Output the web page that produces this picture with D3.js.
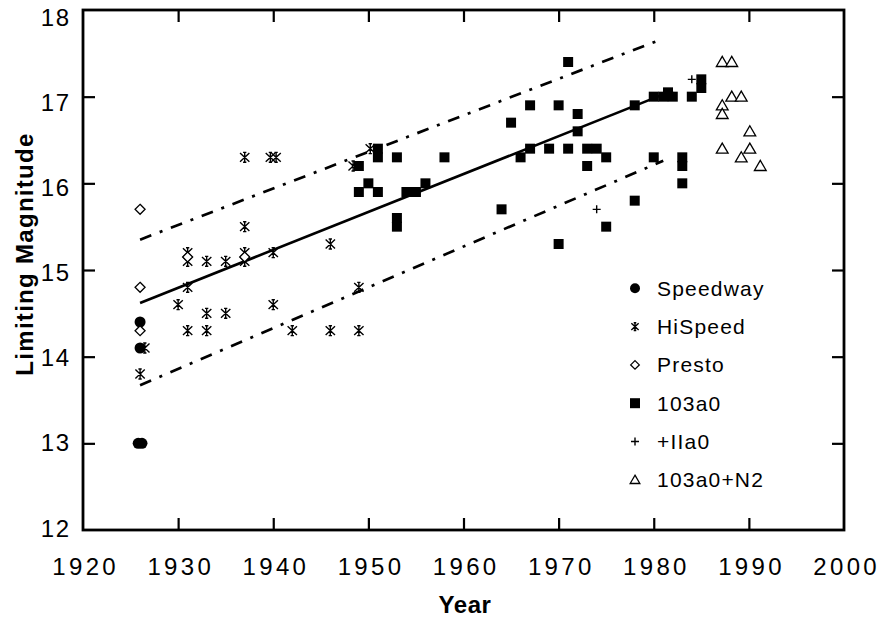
<!DOCTYPE html>
<html>
<head>
<meta charset="utf-8">
<script src="https://cdn.jsdelivr.net/npm/d3@7"></script>
<style>
  html, body { margin: 0; padding: 0; background: #fff; }
  svg { display: block; font-family: "Liberation Sans", Arial, Helvetica, sans-serif; }
</style>
</head>
<body>
<svg id="chart" width="880" height="620"></svg>
<script>
// ---------------- data ----------------
const xTicks = [1920, 1930, 1940, 1950, 1960, 1970, 1980, 1990, 2000];
const yTicks = [12, 13, 14, 15, 16, 17, 18];

const speedwayYears  = [1926, 1926, 1925.8, 1926.2];
const speedwayValues = [14.4, 14.1, 13.0, 13.0];

const hiSpeedYears  = [1926.5, 1926, 1930, 1931, 1931, 1931, 1931, 1933, 1933, 1933, 1935, 1935,
                       1937, 1937, 1937, 1937, 1939.7, 1940.3, 1940, 1940, 1942, 1946, 1946,
                       1949, 1949, 1948.4, 1950.2];
const hiSpeedValues = [14.1, 13.8, 14.6, 15.2, 15.1, 14.8, 14.3, 15.1, 14.5, 14.3, 15.1, 14.5,
                       16.3, 15.5, 15.2, 15.1, 16.3, 16.3, 15.2, 14.6, 14.3, 15.3, 14.3,
                       14.3, 14.8, 16.2, 16.4];

const prestoYears  = [1926, 1926, 1926, 1931, 1937];
const prestoValues = [15.7, 14.8, 14.3, 15.15, 15.15];

const e103a0Years  = [1949, 1949, 1950, 1951, 1951, 1951, 1953, 1953, 1953, 1954, 1955, 1956,
                      1958, 1964, 1965, 1966, 1967, 1967, 1969, 1970, 1970, 1971, 1971, 1972,
                      1972, 1973, 1973, 1974, 1975, 1975, 1978, 1978, 1980, 1980, 1981, 1981.5,
                      1982, 1983, 1983, 1983, 1984, 1985, 1985];
const e103a0Values = [16.2, 15.9, 16.0, 16.4, 16.3, 15.9, 16.3, 15.6, 15.5, 15.9, 15.9, 16.0,
                      16.3, 15.7, 16.7, 16.3, 16.9, 16.4, 16.4, 16.9, 15.3, 17.4, 16.4, 16.8,
                      16.6, 16.4, 16.2, 16.4, 16.3, 15.5, 16.9, 15.8, 17.0, 16.3, 17.0, 17.05,
                      17.0, 16.3, 16.2, 16.0, 17.0, 17.2, 17.1];

const iia0Years  = [1974, 1984];
const iia0Values = [15.7, 17.2];

const n2Years  = [1987.2, 1988.2, 1988.2, 1989.2, 1987.2, 1987.2, 1990.1, 1987.2, 1990.1, 1989.2, 1991.2];
const n2Values = [17.4, 17.4, 17.0, 17.0, 16.9, 16.8, 16.6, 16.4, 16.4, 16.3, 16.2];

const fitYears   = [1926, 1982];
const fitValues  = [14.62, 17.07];
const upperYears = [1926, 1981];
const upperValues= [15.35, 17.67];
const lowerYears = [1926, 1981];
const lowerValues= [13.67, 16.26];

const legendNames = ["Speedway", "HiSpeed", "Presto", "103a0", "+IIa0", "103a0+N2"];

// ---------------- layout ----------------
const svg = d3.select("#chart");
const pL = 83, pR = 844, pT = 10, pB = 530;
const x = d3.scaleLinear().domain([1920, 2000]).range([pL, pR]);
const y = d3.scaleLinear().domain([12, 18]).range([pB, pT]);
const yLab = d3.scaleLinear().domain([12, 18]).range([528, 17]);

svg.append("rect").attr("width", 880).attr("height", 620).attr("fill", "#fff");

// ---------------- marker shapes ----------------
const shapes = {
  circle: r => `M${-r},0A${r},${r} 0 1,0 ${r},0A${r},${r} 0 1,0 ${-r},0Z`,
  square: r => `M${-r},${-r}H${r}V${r}H${-r}Z`,
  diamond: r => `M0,${-r}L${r},0L0,${r}L${-r},0Z`,
  plus: r => `M${-r},0H${r}M0,${-r}V${r}`,
  triangle: r => `M0,${-r}L${r * 1.05},${r * 0.8}L${-r * 1.05},${r * 0.8}Z`,
  asterisk: r => `M0,${-r}V${r}M${-r * 0.85},${-r * 0.8}L${r * 0.85},${r * 0.8}M${r * 0.85},${-r * 0.8}L${-r * 0.85},${r * 0.8}` +
                 `M${-r * 0.3},${-r * 0.9}H${r * 0.3}M${-r * 0.3},${r * 0.9}H${r * 0.3}`
};
const styles = {
  circle:   { fill: "#000", stroke: "none", sw: 0 },
  square:   { fill: "#000", stroke: "none", sw: 0 },
  diamond:  { fill: "#fff", stroke: "#000", sw: 1.3 },
  plus:     { fill: "none", stroke: "#000", sw: 1.4 },
  triangle: { fill: "#fff", stroke: "#000", sw: 1.3 },
  asterisk: { fill: "none", stroke: "#000", sw: 1.4 }
};

const series = [
  { name: legendNames[0], shape: "circle",   r: 5.5, lr: 5,   xs: speedwayYears, ys: speedwayValues },
  { name: legendNames[1], shape: "asterisk", r: 5.5, lr: 4.3, xs: hiSpeedYears,  ys: hiSpeedValues },
  { name: legendNames[2], shape: "diamond",  r: 5,   lr: 4.3, xs: prestoYears,   ys: prestoValues },
  { name: legendNames[3], shape: "square",   r: 5,   lr: 5,   xs: e103a0Years,   ys: e103a0Values },
  { name: legendNames[4], shape: "plus",     r: 4,   lr: 4,   xs: iia0Years,     ys: iia0Values },
  { name: legendNames[5], shape: "triangle", r: 5.6, lr: 4.6, xs: n2Years,       ys: n2Values }
];

// ---------------- lines ----------------
const line = d3.line().x(d => x(d[0])).y(d => y(d[1]));
const toPts = (xs, ys) => xs.map((v, i) => [v, ys[i]]);
const gLines = svg.append("g");
gLines.append("path").datum(toPts(upperYears, upperValues)).attr("d", line)
  .attr("fill", "none").attr("stroke", "#000").attr("stroke-width", 2.7).attr("stroke-dasharray", "12,9,3,9");
gLines.append("path").datum(toPts(lowerYears, lowerValues)).attr("d", line)
  .attr("fill", "none").attr("stroke", "#000").attr("stroke-width", 2.7).attr("stroke-dasharray", "12,9,3,9");
gLines.append("path").datum(toPts(fitYears, fitValues)).attr("d", line)
  .attr("fill", "none").attr("stroke", "#000").attr("stroke-width", 2.6);

// ---------------- points ----------------
const gPts = svg.append("g");
series.forEach(s => {
  const st = styles[s.shape];
  gPts.selectAll(null).data(toPts(s.xs, s.ys)).enter().append("path")
    .attr("transform", d => `translate(${x(d[0])},${y(d[1])})`)
    .attr("d", shapes[s.shape](s.r))
    .attr("fill", st.fill).attr("stroke", st.stroke).attr("stroke-width", st.sw);
});

// ---------------- axes (ticks inward on all four sides) ----------------
const tk = 12;
const axStyle = g => {
  g.select(".domain").remove();
  g.selectAll(".tick line").attr("stroke", "#000").attr("stroke-width", 2.2);
  g.selectAll(".tick text").remove();
};
svg.append("g").attr("transform", `translate(0,${pB})`)
  .call(d3.axisBottom(x).tickValues(xTicks.slice(1, -1)).tickSizeInner(-tk).tickSizeOuter(0)).call(axStyle);
svg.append("g").attr("transform", `translate(0,${pT})`)
  .call(d3.axisTop(x).tickValues(xTicks.slice(1, -1)).tickSizeInner(-tk).tickSizeOuter(0)).call(axStyle);
svg.append("g").attr("transform", `translate(${pL},0)`)
  .call(d3.axisLeft(y).tickValues(yTicks.slice(1, -1)).tickSizeInner(-tk).tickSizeOuter(0)).call(axStyle);
svg.append("g").attr("transform", `translate(${pR},0)`)
  .call(d3.axisRight(y).tickValues(yTicks.slice(1, -1)).tickSizeInner(-tk).tickSizeOuter(0)).call(axStyle);

// frame
svg.append("rect").attr("x", pL).attr("y", pT).attr("width", pR - pL).attr("height", pB - pT)
  .attr("fill", "none").attr("stroke", "#000").attr("stroke-width", 2.8);

// tick labels
const lsX = 3.3, lsY = 1.5;
svg.append("g").selectAll("text").data(xTicks).enter().append("text")
  .attr("x", d => x(d) + lsX / 2 + 1).attr("y", 575)
  .attr("text-anchor", "middle").attr("font-size", 24).attr("letter-spacing", lsX)
  .attr("fill", "#000").text(d => d);
svg.append("g").selectAll("text").data(yTicks).enter().append("text")
  .attr("x", 69 + lsY).attr("y", d => yLab(d)).attr("dy", "0.36em")
  .attr("text-anchor", "end").attr("font-size", 24).attr("letter-spacing", lsY)
  .attr("fill", "#000").text(d => d);

// axis titles
svg.append("text").attr("x", 465).attr("y", 613).attr("text-anchor", "middle")
  .attr("font-size", 24).attr("font-weight", "bold").attr("letter-spacing", 0.6)
  .attr("fill", "#000").text("Year");
svg.append("text").attr("transform", "translate(33,254) rotate(-90)").attr("text-anchor", "middle")
  .attr("font-size", 24).attr("font-weight", "bold").attr("letter-spacing", 1.3)
  .attr("fill", "#000").text("Limiting Magnitude");

// ---------------- legend ----------------
const gLeg = svg.append("g");
series.forEach((s, i) => {
  const cy = 288.3 + i * 38.3;
  const st = styles[s.shape];
  gLeg.append("path").attr("transform", `translate(635,${cy})`).attr("d", shapes[s.shape](s.lr))
    .attr("fill", st.fill).attr("stroke", st.stroke).attr("stroke-width", st.sw);
  gLeg.append("text").attr("x", 657).attr("y", cy).attr("dy", "0.36em")
    .attr("font-size", 21).attr("letter-spacing", 1.2).attr("fill", "#000").text(s.name);
});
</script>
</body>
</html>
